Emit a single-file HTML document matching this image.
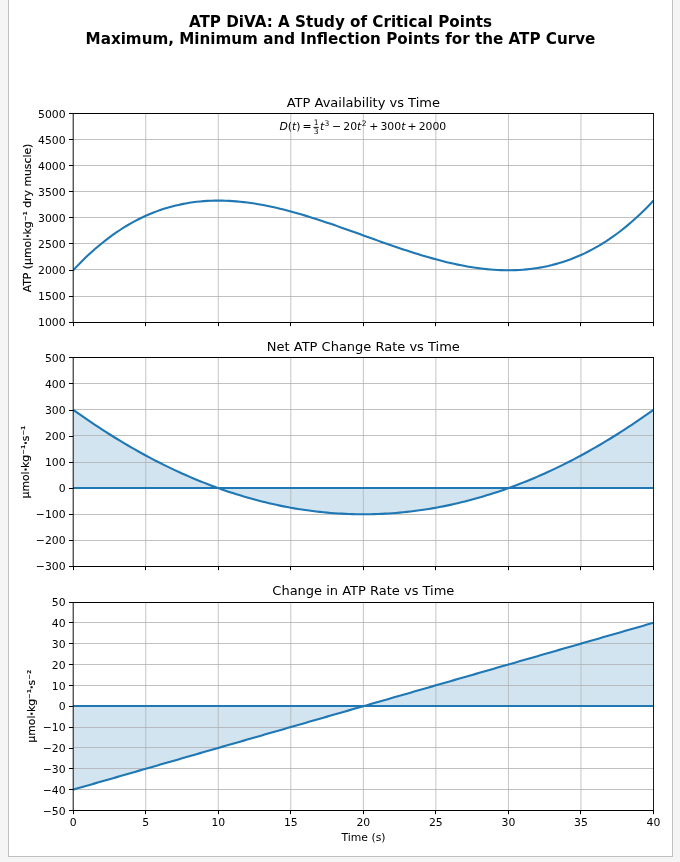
<!DOCTYPE html>
<html lang="en">
<head>
<meta charset="utf-8">
<title>ATP DiVA: A Study of Critical Points</title>
<style>
html,body{margin:0;padding:0;}
body{background:#f5f5f5;width:680px;height:862px;position:relative;overflow:hidden;font-family:"DejaVu Sans","Liberation Sans",sans-serif;}
.card{position:absolute;left:8px;top:-10px;width:663px;height:865px;background:#fff;border:1px solid #c0c0c0;}
svg text{white-space:pre;}
</style>
</head>
<body>
<div class="card"></div>
<svg width="680" height="862" viewBox="0 0 680 862" style="position:absolute;left:0;top:0" font-family="'DejaVu Sans', 'Liberation Sans', sans-serif">
<g font-weight="bold" font-size="15.17" text-anchor="middle" fill="#000">
<text x="340.5" y="27">ATP DiVA: A Study of Critical Points</text>
<text x="340.5" y="44">Maximum, Minimum and Inflection Points for the ATP Curve</text>
</g>
<g id="axes1">
<path d="M145.74 113.5V322.5M218.27 113.5V322.5M290.81 113.5V322.5M363.35 113.5V322.5M435.89 113.5V322.5M508.43 113.5V322.5M580.96 113.5V322.5" stroke="#b0b0b0" stroke-width="0.74" fill="none"/>
<path d="M73.2 139.5H653.5M73.2 165.5H653.5M73.2 191.5H653.5M73.2 217.5H653.5M73.2 243.5H653.5M73.2 269.5H653.5M73.2 296.5H653.5" stroke="#b0b0b0" stroke-width="0.8" fill="none"/>
<path d="M73.2 270.25L76.83 266.4L80.45 262.67L84.08 259.07L87.71 255.6L91.33 252.26L94.96 249.03L98.59 245.93L102.22 242.94L105.84 240.07L109.47 237.32L113.1 234.68L116.72 232.16L120.35 229.75L123.98 227.44L127.6 225.25L131.23 223.16L134.86 221.17L138.48 219.29L142.11 217.5L145.74 215.82L149.36 214.24L152.99 212.75L156.62 211.36L160.25 210.06L163.87 208.85L167.5 207.73L171.13 206.7L174.75 205.76L178.38 204.9L182.01 204.12L185.63 203.43L189.26 202.81L192.89 202.28L196.51 201.82L200.14 201.43L203.77 201.12L207.39 200.88L211.02 200.72L214.65 200.62L218.27 200.58L221.9 200.62L225.53 200.71L229.16 200.87L232.78 201.09L236.41 201.37L240.04 201.7L243.66 202.09L247.29 202.53L250.92 203.03L254.54 203.58L258.17 204.17L261.8 204.82L265.42 205.5L269.05 206.24L272.68 207.01L276.3 207.83L279.93 208.68L283.56 209.58L287.19 210.51L290.81 211.47L294.44 212.46L298.07 213.49L301.69 214.55L305.32 215.63L308.95 216.74L312.57 217.88L316.2 219.03L319.83 220.21L323.45 221.41L327.08 222.63L330.71 223.86L334.33 225.11L337.96 226.37L341.59 227.64L345.22 228.92L348.84 230.21L352.47 231.51L356.1 232.81L359.72 234.11L363.35 235.42L366.98 236.72L370.6 238.03L374.23 239.33L377.86 240.62L381.48 241.91L385.11 243.2L388.74 244.47L392.36 245.73L395.99 246.97L399.62 248.21L403.25 249.42L406.87 250.62L410.5 251.8L414.13 252.96L417.75 254.09L421.38 255.2L425.01 256.29L428.63 257.34L432.26 258.37L435.89 259.36L439.51 260.33L443.14 261.26L446.77 262.15L450.39 263L454.02 263.82L457.65 264.6L461.28 265.33L464.9 266.02L468.53 266.66L472.16 267.26L475.78 267.8L479.41 268.3L483.04 268.74L486.66 269.13L490.29 269.47L493.92 269.74L497.54 269.96L501.17 270.12L504.8 270.22L508.43 270.25L512.05 270.22L515.68 270.12L519.31 269.95L522.93 269.71L526.56 269.4L530.19 269.02L533.81 268.56L537.44 268.02L541.07 267.41L544.69 266.71L548.32 265.94L551.95 265.08L555.57 264.13L559.2 263.1L562.83 261.98L566.45 260.78L570.08 259.48L573.71 258.08L577.34 256.59L580.96 255.01L584.59 253.33L588.22 251.55L591.84 249.66L595.47 247.68L599.1 245.59L602.72 243.39L606.35 241.09L609.98 238.67L613.6 236.15L617.23 233.51L620.86 230.76L624.49 227.89L628.11 224.91L631.74 221.8L635.37 218.58L638.99 215.23L642.62 211.76L646.25 208.16L649.87 204.44L653.5 200.58" stroke="#1f77b4" stroke-width="2.1" fill="none" stroke-linejoin="round" stroke-linecap="butt" clip-path="url(#clip0)"/>
<clipPath id="clip0"><rect x="73.2" y="113.5" width="580.3" height="209"/></clipPath>
<path d="M73.5 322.5v3.64M145.5 322.5v3.64M218.5 322.5v3.64M290.5 322.5v3.64M363.5 322.5v3.64M435.5 322.5v3.64M508.5 322.5v3.64M580.5 322.5v3.64M653.5 322.5v3.64" stroke="#000" stroke-width="1" fill="none"/>
<path d="M73.2 113.5h-4.24M73.2 139.5h-4.24M73.2 165.5h-4.24M73.2 191.5h-4.24M73.2 217.5h-4.24M73.2 243.5h-4.24M73.2 270.5h-4.24M73.2 296.5h-4.24M73.2 322.5h-4.24" stroke="#000" stroke-width="1" fill="none"/>
<path d="M73.2 113V323" stroke="#000" stroke-width="0.95" fill="none"/>
<path d="M653.5 113V323" stroke="#000" stroke-width="0.9" fill="none"/>
<path d="M72.77 113.5H653.95M72.77 322.5H653.95" stroke="#000" stroke-width="1" fill="none"/>
<g font-size="10.83" text-anchor="end" fill="#000">
<text x="65.62" y="118">5000</text>
<text x="65.62" y="144">4500</text>
<text x="65.62" y="170">4000</text>
<text x="65.62" y="196">3500</text>
<text x="65.62" y="222">3000</text>
<text x="65.62" y="248">2500</text>
<text x="65.62" y="274">2000</text>
<text x="65.62" y="300">1500</text>
<text x="65.62" y="326">1000</text>
</g>
<text x="363.35" y="107" font-size="13.0" text-anchor="middle" fill="#000">ATP Availability vs Time</text>
<text transform="translate(31.3 218) rotate(-90)" font-size="10.83" text-anchor="middle" fill="#000" stroke="#000" stroke-width="0.15" stroke-linejoin="miter">ATP (µmol<tspan stroke-width="0.75">·</tspan>kg⁻¹ dry muscle)</text>
</g>
<g id="axes2">
<path d="M73.2 409.75L76.83 412.35L80.45 414.91L84.08 417.44L87.71 419.94L91.33 422.4L94.96 424.84L98.59 427.24L102.22 429.61L105.84 431.94L109.47 434.24L113.1 436.51L116.72 438.75L120.35 440.95L123.98 443.12L127.6 445.26L131.23 447.37L134.86 449.44L138.48 451.48L142.11 453.49L145.74 455.47L149.36 457.41L152.99 459.32L156.62 461.2L160.25 463.05L163.87 464.86L167.5 466.64L171.13 468.38L174.75 470.1L178.38 471.78L182.01 473.43L185.63 475.05L189.26 476.63L192.89 478.18L196.51 479.7L200.14 481.19L203.77 482.64L207.39 484.06L211.02 485.45L214.65 486.8L218.27 488.12L221.9 489.41L225.53 490.67L229.16 491.9L232.78 493.09L236.41 494.25L240.04 495.37L243.66 496.47L247.29 497.53L250.92 498.56L254.54 499.55L258.17 500.52L261.8 501.45L265.42 502.35L269.05 503.21L272.68 504.04L276.3 504.85L279.93 505.61L283.56 506.35L287.19 507.05L290.81 507.72L294.44 508.36L298.07 508.96L301.69 509.53L305.32 510.07L308.95 510.58L312.57 511.05L316.2 511.49L319.83 511.9L323.45 512.27L327.08 512.62L330.71 512.93L334.33 513.21L337.96 513.45L341.59 513.66L345.22 513.84L348.84 513.99L352.47 514.1L356.1 514.18L359.72 514.23L363.35 514.25L366.98 514.23L370.6 514.18L374.23 514.1L377.86 513.99L381.48 513.84L385.11 513.66L388.74 513.45L392.36 513.21L395.99 512.93L399.62 512.62L403.25 512.27L406.87 511.9L410.5 511.49L414.13 511.05L417.75 510.58L421.38 510.07L425.01 509.53L428.63 508.96L432.26 508.36L435.89 507.72L439.51 507.05L443.14 506.35L446.77 505.61L450.39 504.85L454.02 504.04L457.65 503.21L461.28 502.35L464.9 501.45L468.53 500.52L472.16 499.55L475.78 498.56L479.41 497.53L483.04 496.47L486.66 495.37L490.29 494.25L493.92 493.09L497.54 491.9L501.17 490.67L504.8 489.41L508.43 488.12L512.05 486.8L515.68 485.45L519.31 484.06L522.93 482.64L526.56 481.19L530.19 479.7L533.81 478.18L537.44 476.63L541.07 475.05L544.69 473.43L548.32 471.78L551.95 470.1L555.57 468.38L559.2 466.64L562.83 464.86L566.45 463.05L570.08 461.2L573.71 459.32L577.34 457.41L580.96 455.47L584.59 453.49L588.22 451.48L591.84 449.44L595.47 447.37L599.1 445.26L602.72 443.12L606.35 440.95L609.98 438.75L613.6 436.51L617.23 434.24L620.86 431.94L624.49 429.61L628.11 427.24L631.74 424.84L635.37 422.4L638.99 419.94L642.62 417.44L646.25 414.91L649.87 412.35L653.5 409.75L653.5 488L73.2 488Z" fill="#1f77b4" fill-opacity="0.2" stroke="none"/>
<path d="M145.74 357.5V566.5M218.27 357.5V566.5M290.81 357.5V566.5M363.35 357.5V566.5M435.89 357.5V566.5M508.43 357.5V566.5M580.96 357.5V566.5" stroke="#b0b0b0" stroke-width="0.74" fill="none"/>
<path d="M73.2 383.5H653.5M73.2 409.5H653.5M73.2 435.5H653.5M73.2 462.5H653.5M73.2 488H653.5M73.2 514.5H653.5M73.2 540.5H653.5" stroke="#b0b0b0" stroke-width="0.8" fill="none"/>
<path d="M73.2 488H653.5" stroke="#1f77b4" stroke-width="1.8" fill="none"/>
<path d="M73.2 409.75L76.83 412.35L80.45 414.91L84.08 417.44L87.71 419.94L91.33 422.4L94.96 424.84L98.59 427.24L102.22 429.61L105.84 431.94L109.47 434.24L113.1 436.51L116.72 438.75L120.35 440.95L123.98 443.12L127.6 445.26L131.23 447.37L134.86 449.44L138.48 451.48L142.11 453.49L145.74 455.47L149.36 457.41L152.99 459.32L156.62 461.2L160.25 463.05L163.87 464.86L167.5 466.64L171.13 468.38L174.75 470.1L178.38 471.78L182.01 473.43L185.63 475.05L189.26 476.63L192.89 478.18L196.51 479.7L200.14 481.19L203.77 482.64L207.39 484.06L211.02 485.45L214.65 486.8L218.27 488.12L221.9 489.41L225.53 490.67L229.16 491.9L232.78 493.09L236.41 494.25L240.04 495.37L243.66 496.47L247.29 497.53L250.92 498.56L254.54 499.55L258.17 500.52L261.8 501.45L265.42 502.35L269.05 503.21L272.68 504.04L276.3 504.85L279.93 505.61L283.56 506.35L287.19 507.05L290.81 507.72L294.44 508.36L298.07 508.96L301.69 509.53L305.32 510.07L308.95 510.58L312.57 511.05L316.2 511.49L319.83 511.9L323.45 512.27L327.08 512.62L330.71 512.93L334.33 513.21L337.96 513.45L341.59 513.66L345.22 513.84L348.84 513.99L352.47 514.1L356.1 514.18L359.72 514.23L363.35 514.25L366.98 514.23L370.6 514.18L374.23 514.1L377.86 513.99L381.48 513.84L385.11 513.66L388.74 513.45L392.36 513.21L395.99 512.93L399.62 512.62L403.25 512.27L406.87 511.9L410.5 511.49L414.13 511.05L417.75 510.58L421.38 510.07L425.01 509.53L428.63 508.96L432.26 508.36L435.89 507.72L439.51 507.05L443.14 506.35L446.77 505.61L450.39 504.85L454.02 504.04L457.65 503.21L461.28 502.35L464.9 501.45L468.53 500.52L472.16 499.55L475.78 498.56L479.41 497.53L483.04 496.47L486.66 495.37L490.29 494.25L493.92 493.09L497.54 491.9L501.17 490.67L504.8 489.41L508.43 488.12L512.05 486.8L515.68 485.45L519.31 484.06L522.93 482.64L526.56 481.19L530.19 479.7L533.81 478.18L537.44 476.63L541.07 475.05L544.69 473.43L548.32 471.78L551.95 470.1L555.57 468.38L559.2 466.64L562.83 464.86L566.45 463.05L570.08 461.2L573.71 459.32L577.34 457.41L580.96 455.47L584.59 453.49L588.22 451.48L591.84 449.44L595.47 447.37L599.1 445.26L602.72 443.12L606.35 440.95L609.98 438.75L613.6 436.51L617.23 434.24L620.86 431.94L624.49 429.61L628.11 427.24L631.74 424.84L635.37 422.4L638.99 419.94L642.62 417.44L646.25 414.91L649.87 412.35L653.5 409.75" stroke="#1f77b4" stroke-width="2.1" fill="none" stroke-linejoin="round" stroke-linecap="butt" clip-path="url(#clip1)"/>
<clipPath id="clip1"><rect x="73.2" y="357.5" width="580.3" height="209"/></clipPath>
<path d="M73.5 566.5v3.64M145.5 566.5v3.64M218.5 566.5v3.64M290.5 566.5v3.64M363.5 566.5v3.64M435.5 566.5v3.64M508.5 566.5v3.64M580.5 566.5v3.64M653.5 566.5v3.64" stroke="#000" stroke-width="1" fill="none"/>
<path d="M73.2 357.5h-4.24M73.2 383.5h-4.24M73.2 410.5h-4.24M73.2 436.5h-4.24M73.2 462.5h-4.24M73.2 488.5h-4.24M73.2 514.5h-4.24M73.2 540.5h-4.24M73.2 566.5h-4.24" stroke="#000" stroke-width="1" fill="none"/>
<path d="M73.2 357V567" stroke="#000" stroke-width="0.95" fill="none"/>
<path d="M653.5 357V567" stroke="#000" stroke-width="0.9" fill="none"/>
<path d="M72.77 357.5H653.95M72.77 566.5H653.95" stroke="#000" stroke-width="1" fill="none"/>
<g font-size="10.83" text-anchor="end" fill="#000">
<text x="65.62" y="362">500</text>
<text x="65.62" y="388">400</text>
<text x="65.62" y="414">300</text>
<text x="65.62" y="440">200</text>
<text x="65.62" y="466">100</text>
<text x="65.62" y="492">0</text>
<text x="65.62" y="518">−100</text>
<text x="65.62" y="544">−200</text>
<text x="65.62" y="570">−300</text>
</g>
<text x="363.35" y="351" font-size="13.0" text-anchor="middle" fill="#000">Net ATP Change Rate vs Time</text>
<text transform="translate(29 462) rotate(-90)" font-size="10.83" text-anchor="middle" fill="#000" stroke="#000" stroke-width="0.15" stroke-linejoin="miter">µmol<tspan stroke-width="0.75">·</tspan>kg⁻¹<tspan stroke-width="0.75">·</tspan>s⁻¹</text>
</g>
<g id="axes3">
<path d="M73.2 789.64L76.83 788.6L80.45 787.55L84.08 786.51L87.71 785.47L91.33 784.42L94.96 783.38L98.59 782.34L102.22 781.3L105.84 780.25L109.47 779.21L113.1 778.17L116.72 777.12L120.35 776.08L123.98 775.04L127.6 774L131.23 772.95L134.86 771.91L138.48 770.87L142.11 769.82L145.74 768.78L149.36 767.74L152.99 766.69L156.62 765.65L160.25 764.61L163.87 763.57L167.5 762.52L171.13 761.48L174.75 760.44L178.38 759.39L182.01 758.35L185.63 757.31L189.26 756.26L192.89 755.22L196.51 754.18L200.14 753.13L203.77 752.09L207.39 751.05L211.02 750.01L214.65 748.96L218.27 747.92L221.9 746.88L225.53 745.83L229.16 744.79L232.78 743.75L236.41 742.7L240.04 741.66L243.66 740.62L247.29 739.58L250.92 738.53L254.54 737.49L258.17 736.45L261.8 735.4L265.42 734.36L269.05 733.32L272.68 732.27L276.3 731.23L279.93 730.19L283.56 729.15L287.19 728.1L290.81 727.06L294.44 726.02L298.07 724.97L301.69 723.93L305.32 722.89L308.95 721.85L312.57 720.8L316.2 719.76L319.83 718.72L323.45 717.67L327.08 716.63L330.71 715.59L334.33 714.54L337.96 713.5L341.59 712.46L345.22 711.41L348.84 710.37L352.47 709.33L356.1 708.29L359.72 707.24L363.35 706.2L366.98 705.16L370.6 704.11L374.23 703.07L377.86 702.03L381.48 700.99L385.11 699.94L388.74 698.9L392.36 697.86L395.99 696.81L399.62 695.77L403.25 694.73L406.87 693.68L410.5 692.64L414.13 691.6L417.75 690.55L421.38 689.51L425.01 688.47L428.63 687.43L432.26 686.38L435.89 685.34L439.51 684.3L443.14 683.25L446.77 682.21L450.39 681.17L454.02 680.12L457.65 679.08L461.28 678.04L464.9 677L468.53 675.95L472.16 674.91L475.78 673.87L479.41 672.82L483.04 671.78L486.66 670.74L490.29 669.69L493.92 668.65L497.54 667.61L501.17 666.57L504.8 665.52L508.43 664.48L512.05 663.44L515.68 662.39L519.31 661.35L522.93 660.31L526.56 659.26L530.19 658.22L533.81 657.18L537.44 656.14L541.07 655.09L544.69 654.05L548.32 653.01L551.95 651.96L555.57 650.92L559.2 649.88L562.83 648.84L566.45 647.79L570.08 646.75L573.71 645.71L577.34 644.66L580.96 643.62L584.59 642.58L588.22 641.53L591.84 640.49L595.47 639.45L599.1 638.4L602.72 637.36L606.35 636.32L609.98 635.28L613.6 634.23L617.23 633.19L620.86 632.15L624.49 631.1L628.11 630.06L631.74 629.02L635.37 627.98L638.99 626.93L642.62 625.89L646.25 624.85L649.87 623.8L653.5 622.76L653.5 706L73.2 706Z" fill="#1f77b4" fill-opacity="0.2" stroke="none"/>
<path d="M145.74 601.9V810.5M218.27 601.9V810.5M290.81 601.9V810.5M363.35 601.9V810.5M435.89 601.9V810.5M508.43 601.9V810.5M580.96 601.9V810.5" stroke="#b0b0b0" stroke-width="0.74" fill="none"/>
<path d="M73.2 622.5H653.5M73.2 643.5H653.5M73.2 664.5H653.5M73.2 685.5H653.5M73.2 706H653.5M73.2 727.5H653.5M73.2 747.5H653.5M73.2 768.5H653.5M73.2 789.5H653.5" stroke="#b0b0b0" stroke-width="0.8" fill="none"/>
<path d="M73.2 706H653.5" stroke="#1f77b4" stroke-width="1.8" fill="none"/>
<path d="M73.2 789.64L76.83 788.6L80.45 787.55L84.08 786.51L87.71 785.47L91.33 784.42L94.96 783.38L98.59 782.34L102.22 781.3L105.84 780.25L109.47 779.21L113.1 778.17L116.72 777.12L120.35 776.08L123.98 775.04L127.6 774L131.23 772.95L134.86 771.91L138.48 770.87L142.11 769.82L145.74 768.78L149.36 767.74L152.99 766.69L156.62 765.65L160.25 764.61L163.87 763.57L167.5 762.52L171.13 761.48L174.75 760.44L178.38 759.39L182.01 758.35L185.63 757.31L189.26 756.26L192.89 755.22L196.51 754.18L200.14 753.13L203.77 752.09L207.39 751.05L211.02 750.01L214.65 748.96L218.27 747.92L221.9 746.88L225.53 745.83L229.16 744.79L232.78 743.75L236.41 742.7L240.04 741.66L243.66 740.62L247.29 739.58L250.92 738.53L254.54 737.49L258.17 736.45L261.8 735.4L265.42 734.36L269.05 733.32L272.68 732.27L276.3 731.23L279.93 730.19L283.56 729.15L287.19 728.1L290.81 727.06L294.44 726.02L298.07 724.97L301.69 723.93L305.32 722.89L308.95 721.85L312.57 720.8L316.2 719.76L319.83 718.72L323.45 717.67L327.08 716.63L330.71 715.59L334.33 714.54L337.96 713.5L341.59 712.46L345.22 711.41L348.84 710.37L352.47 709.33L356.1 708.29L359.72 707.24L363.35 706.2L366.98 705.16L370.6 704.11L374.23 703.07L377.86 702.03L381.48 700.99L385.11 699.94L388.74 698.9L392.36 697.86L395.99 696.81L399.62 695.77L403.25 694.73L406.87 693.68L410.5 692.64L414.13 691.6L417.75 690.55L421.38 689.51L425.01 688.47L428.63 687.43L432.26 686.38L435.89 685.34L439.51 684.3L443.14 683.25L446.77 682.21L450.39 681.17L454.02 680.12L457.65 679.08L461.28 678.04L464.9 677L468.53 675.95L472.16 674.91L475.78 673.87L479.41 672.82L483.04 671.78L486.66 670.74L490.29 669.69L493.92 668.65L497.54 667.61L501.17 666.57L504.8 665.52L508.43 664.48L512.05 663.44L515.68 662.39L519.31 661.35L522.93 660.31L526.56 659.26L530.19 658.22L533.81 657.18L537.44 656.14L541.07 655.09L544.69 654.05L548.32 653.01L551.95 651.96L555.57 650.92L559.2 649.88L562.83 648.84L566.45 647.79L570.08 646.75L573.71 645.71L577.34 644.66L580.96 643.62L584.59 642.58L588.22 641.53L591.84 640.49L595.47 639.45L599.1 638.4L602.72 637.36L606.35 636.32L609.98 635.28L613.6 634.23L617.23 633.19L620.86 632.15L624.49 631.1L628.11 630.06L631.74 629.02L635.37 627.98L638.99 626.93L642.62 625.89L646.25 624.85L649.87 623.8L653.5 622.76" stroke="#1f77b4" stroke-width="2.1" fill="none" stroke-linejoin="round" stroke-linecap="butt" clip-path="url(#clip2)"/>
<clipPath id="clip2"><rect x="73.2" y="601.9" width="580.3" height="208.6"/></clipPath>
<path d="M73.5 810.5v3.64M145.5 810.5v3.64M218.5 810.5v3.64M290.5 810.5v3.64M363.5 810.5v3.64M435.5 810.5v3.64M508.5 810.5v3.64M580.5 810.5v3.64M653.5 810.5v3.64" stroke="#000" stroke-width="1" fill="none"/>
<path d="M73.2 602.5h-4.24M73.2 622.5h-4.24M73.2 643.5h-4.24M73.2 664.5h-4.24M73.2 685.5h-4.24M73.2 706.5h-4.24M73.2 727.5h-4.24M73.2 748.5h-4.24M73.2 768.5h-4.24M73.2 789.5h-4.24M73.2 810.5h-4.24" stroke="#000" stroke-width="1" fill="none"/>
<path d="M73.2 602V811" stroke="#000" stroke-width="0.95" fill="none"/>
<path d="M653.5 602V811" stroke="#000" stroke-width="0.9" fill="none"/>
<path d="M72.77 602.5H653.95M72.77 810.5H653.95" stroke="#000" stroke-width="1" fill="none"/>
<g font-size="10.83" text-anchor="end" fill="#000">
<text x="65.62" y="606">50</text>
<text x="65.62" y="627">40</text>
<text x="65.62" y="648">30</text>
<text x="65.62" y="669">20</text>
<text x="65.62" y="690">10</text>
<text x="65.62" y="710">0</text>
<text x="65.62" y="731">−10</text>
<text x="65.62" y="752">−20</text>
<text x="65.62" y="773">−30</text>
<text x="65.62" y="794">−40</text>
<text x="65.62" y="815">−50</text>
</g>
<text x="363.35" y="595" font-size="13.0" text-anchor="middle" fill="#000">Change in ATP Rate vs Time</text>
<text transform="translate(35.4 706.2) rotate(-90)" font-size="10.83" text-anchor="middle" fill="#000" stroke="#000" stroke-width="0.15" stroke-linejoin="miter">µmol<tspan stroke-width="0.75">·</tspan>kg⁻¹<tspan stroke-width="0.75">·</tspan>s⁻²</text>
</g>
<g font-size="10.83" text-anchor="middle" fill="#000">
<text x="73.2" y="826">0</text>
<text x="145.74" y="826">5</text>
<text x="218.27" y="826">10</text>
<text x="290.81" y="826">15</text>
<text x="363.35" y="826">20</text>
<text x="435.89" y="826">25</text>
<text x="508.43" y="826">30</text>
<text x="580.96" y="826">35</text>
<text x="653.5" y="826">40</text>
<text x="363.5" y="841">Time (s)</text>
</g>
<g id="formula" fill="#000">
<text><tspan x="279.4" y="130" font-size="10.83" font-style="oblique">D</tspan><tspan x="287.74" y="130" font-size="10.83">(</tspan><tspan x="291.97" y="130" font-size="10.83" font-style="oblique">t</tspan><tspan x="296.22" y="130" font-size="10.83">)</tspan><tspan x="302.55" y="130" font-size="10.83">=</tspan><tspan x="313.74" y="125.25" font-size="7.58">1</tspan><tspan x="313.74" y="134.27" font-size="7.58">3</tspan><tspan x="319.92" y="130" font-size="10.83" font-style="oblique">t</tspan><tspan x="324.58" y="125.85" font-size="7.58">3</tspan><tspan x="332.12" y="130" font-size="10.83">−</tspan><tspan x="343.3" y="130" font-size="10.83">20</tspan><tspan x="357.09" y="130" font-size="10.83" font-style="oblique">t</tspan><tspan x="361.75" y="125.85" font-size="7.58">2</tspan><tspan x="369.29" y="130" font-size="10.83">+</tspan><tspan x="380.47" y="130" font-size="10.83">300</tspan><tspan x="401.15" y="130" font-size="10.83" font-style="oblique">t</tspan><tspan x="407.51" y="130" font-size="10.83">+</tspan><tspan x="418.69" y="130" font-size="10.83">2000</tspan></text>
<rect x="313.44" y="126.9" width="5.32" height="0.9"/>
</g>
</svg>
</body>
</html>
